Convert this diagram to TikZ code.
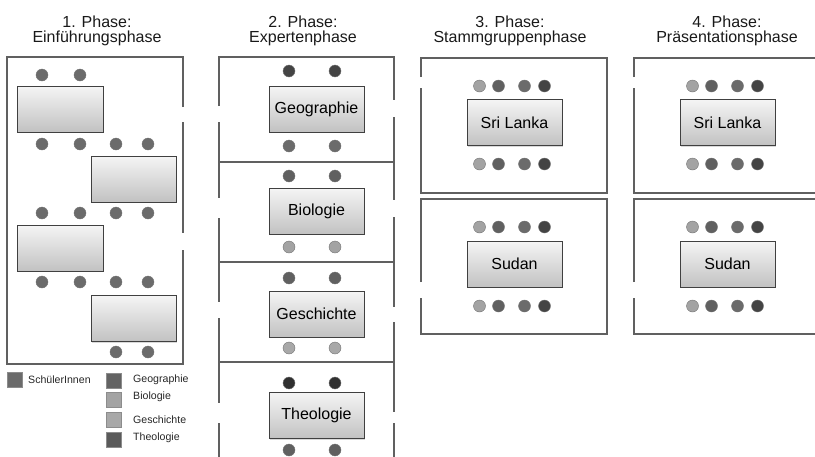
\documentclass[tikz,border=0pt]{standalone}
\usepackage{fontspec}
\setmainfont{Liberation Sans}
\usetikzlibrary{shadows}
\definecolor{wallc}{HTML}{606060}
\definecolor{deskline}{HTML}{404040}
\definecolor{cS}{HTML}{6B6B6B}
\definecolor{cGeo}{HTML}{444444}
\definecolor{cMid}{HTML}{606060}
\definecolor{cBio}{HTML}{A3A3A3}
\definecolor{cGes}{HTML}{A8A8A8}
\definecolor{cThe}{HTML}{303030}
\definecolor{cGeoL}{HTML}{636363}
\definecolor{cTheL}{HTML}{5A5A5A}
\tikzset{
  wall/.style={draw=wallc, line width=1.5pt},
  desk/.style={draw=deskline, line width=0.9pt, top color=black!4, bottom color=black!24,
    minimum width=95pt, minimum height=46pt, inner sep=0pt,
    font=\fontsize{16}{18}\selectfont,
    drop shadow={opacity=0.3, shadow xshift=1.2pt, shadow yshift=-1.2pt}},
  seat/.style={circle, minimum size=12pt, inner sep=0pt, draw=black!55, line width=0.4pt},
  ttl/.style={anchor=base, font=\fontsize{16}{18}\selectfont, text=black!90, inner sep=0pt},
  legsq/.style={minimum size=15pt, inner sep=0pt, draw=black!45, line width=0.6pt},
  legtx/.style={anchor=west, font=\fontsize{10.6}{12}\selectfont, text=black!85, inner sep=0pt}
}
\begin{document}
\begin{tikzpicture}[x=1pt,y=-1pt]
\useasboundingbox (0,0) rectangle (815,456);
% ---------- titles
\node[ttl] (t1a) at (97,27) {1. Phase:};
\node[ttl] (t1b) at (97,42) {Einführungsphase};
\node[ttl] (t2a) at (303,27) {2. Phase:};
\node[ttl] (t2b) at (303,42) {Expertenphase};
\node[ttl] (t3a) at (510,27) {3. Phase:};
\node[ttl] (t3b) at (510,42) {Stammgruppenphase};
\node[ttl] (t4a) at (727,27) {4. Phase:};
\node[ttl] (t4b) at (727,42) {Präsentationsphase};
% ---------- phase 1
\draw[wall] (183,107) -- (183,57) -- (7,57) -- (7,364) -- (183,364) -- (183,250);
\draw[wall] (183,122) -- (183,233);
\node[desk] (d11) at (60,109) [minimum width=86pt] {};
\node[desk] (d12) at (133.5,179) [minimum width=85pt] {};
\node[desk] (d13) at (60,248) [minimum width=86pt] {};
\node[desk] (d14) at (133.5,318.5) [minimum width=85pt] {};
\foreach \x [count=\i] in {42,80} {\node[seat, fill=cS] (p1a\i) at (\x,75) {};}
\foreach \y [count=\j] in {144,213,282} {
  \foreach \x [count=\i] in {42,80,116,148} {\node[seat, fill=cS] (p1r\j c\i) at (\x,\y) {};}
}
\foreach \x [count=\i] in {116,148} {\node[seat, fill=cS] (p1z\i) at (\x,352) {};}
% legend
\node[legsq, fill=cS] (lsS) at (14.5,380) {};
\node[legtx] (ltS) at (28,380) {SchülerInnen};
\node[legsq, fill=cGeoL] (lsGeo) at (114,380.5) {};
\node[legsq, fill=cBio] (lsBio) at (114,400) {};
\node[legsq, fill=cGes] (lsGes) at (114,420) {};
\node[legsq, fill=cTheL] (lsThe) at (114,440) {};
\node[legtx] (ltGeo) at (133,380) {Geographie};
\node[legtx] (ltBio) at (133,397) {Biologie};
\node[legtx] (ltGes) at (133,420) {Geschichte};
\node[legtx] (ltThe) at (133,438) {Theologie};
% ---------- phase 2
\draw[wall] (219,106) -- (219,57) -- (394,57) -- (394,100);
\draw[wall] (219,122) -- (219,198);
\draw[wall] (219,218) -- (219,302);
\draw[wall] (219,318) -- (219,403);
\draw[wall] (219,423) -- (219,457);
\draw[wall] (394,117) -- (394,200);
\draw[wall] (394,217) -- (394,307);
\draw[wall] (394,322) -- (394,412);
\draw[wall] (394,423) -- (394,457);
\draw[wall] (219,162) -- (394,162);
\draw[wall] (219,262) -- (394,262);
\draw[wall] (219,362) -- (394,362);
\node[desk] (d21) at (316.5,109) {Geographie};
\node[desk] (d22) at (316.5,211) {Biologie};
\node[desk] (d23) at (316.5,314) {Geschichte};
\node[desk] (d24) at (316.5,415.5) {Theologie};
\foreach \x [count=\i] in {289,335} {
  \node[seat, fill=cGeo] (g1t\i) at (\x,71) {};
  \node[seat, fill=cS] (g1b\i) at (\x,146) {};
  \node[seat, fill=cMid] (g2t\i) at (\x,176) {};
  \node[seat, fill=cBio] (g2b\i) at (\x,247) {};
  \node[seat, fill=cMid] (g3t\i) at (\x,278) {};
  \node[seat, fill=cGes] (g3b\i) at (\x,348) {};
  \node[seat, fill=cThe] (g4t\i) at (\x,383) {};
  \node[seat, fill=cMid] (g4b\i) at (\x,450) {};
}
% ---------- phase 3
\draw[wall] (421,77) -- (421,58) -- (607,58) -- (607,193) -- (421,193) -- (421,88);
\draw[wall] (421,282) -- (421,199) -- (607,199) -- (607,334) -- (421,334) -- (421,298);
\node[desk] (d31) at (514.5,122.5) {Sri Lanka};
\node[desk] (d32) at (514.5,264) {Sudan};
% ---------- phase 4
\draw[wall] (634,77) -- (634,58) -- (816,58);
\draw[wall] (816,193) -- (634,193) -- (634,88);
\draw[wall] (634,282) -- (634,199) -- (816,199);
\draw[wall] (816,334) -- (634,334) -- (634,298);
\node[desk] (d41) at (727.5,122.5) {Sri Lanka};
\node[desk] (d42) at (727.5,264) {Sudan};
% seats phases 3 and 4
\foreach \cx/\ph in {514.5/3,727.5/4} {
  \foreach \y/\r in {86/a,164/b,227/c,306/d} {
    \node[seat, fill=cBio] (q\ph\r1) at (\cx-35,\y) {};
    \node[seat, fill=cMid] (q\ph\r2) at (\cx-16,\y) {};
    \node[seat, fill=cS]   (q\ph\r3) at (\cx+10,\y) {};
    \node[seat, fill=cGeo] (q\ph\r4) at (\cx+30,\y) {};
  }
}
\end{tikzpicture}
\end{document}
